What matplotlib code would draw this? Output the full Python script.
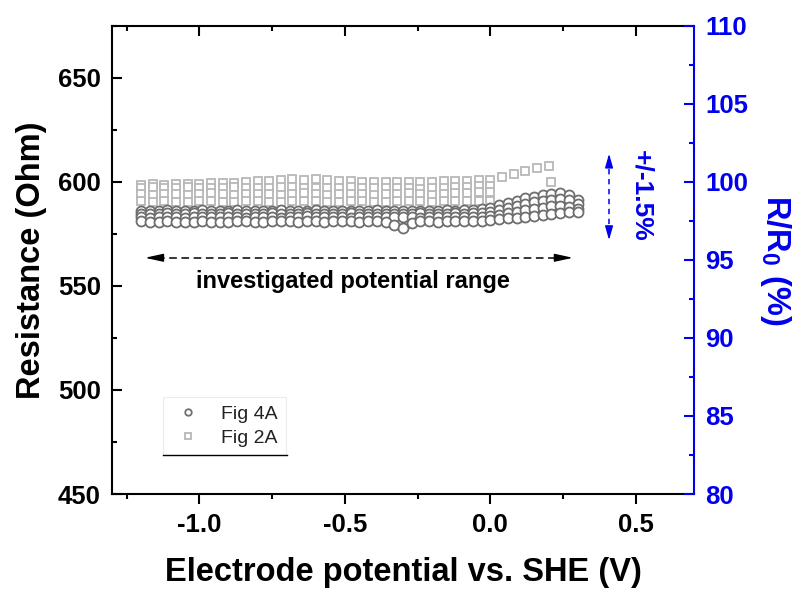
import matplotlib
matplotlib.use("Agg")
import matplotlib.pyplot as plt
from matplotlib.ticker import MultipleLocator

plt.rcParams['font.family'] = ['Liberation Sans', 'DejaVu Sans']
plt.rcParams['mathtext.fontset'] = 'custom'
plt.rcParams['mathtext.rm'] = 'Liberation Sans'
plt.rcParams['mathtext.bf'] = 'Liberation Sans:bold'

# ---- Fig 4A: resistance during potential sweeps (circles) ----
fig4a_potential = [-1.20, -1.17, -1.14, -1.11, -1.08, -1.05, -1.02, -0.99, -0.96, -0.93,
                   -0.90, -0.87, -0.84, -0.81, -0.78, -0.75, -0.72, -0.69, -0.66, -0.63,
                   -0.60, -0.57, -0.54, -0.51, -0.48, -0.45, -0.42, -0.39, -0.36, -0.33,
                   -0.30, -0.27, -0.24, -0.21, -0.18, -0.15, -0.12, -0.09, -0.06, -0.03,
                   0.00, 0.03, 0.06, 0.09, 0.12, 0.15, 0.18, 0.21, 0.24, 0.27,
                   0.30]
fig4a_sweep1 = [581.0, 580.6, 580.9, 581.2, 580.7, 580.5, 580.9, 581.1, 580.8, 580.6,
                580.9, 581.2, 581.0, 580.7, 580.9, 581.1, 581.3, 581.0, 580.8, 581.1,
                581.2, 580.9, 581.0, 581.3, 581.1, 580.8, 581.0, 581.2, 580.6, 579.4,
                577.6, 580.4, 581.0, 581.2, 580.9, 581.1, 581.3, 581.0, 581.2, 581.4,
                581.5, 582.0, 582.4, 582.8, 583.3, 583.8, 584.2, 584.6, 585.0, 585.3,
                585.5]
fig4a_sweep2 = [583.1, 582.8, 583.0, 583.3, 582.9, 582.7, 583.0, 583.2, 582.9, 583.1,
                583.3, 583.0, 582.8, 583.1, 583.2, 583.0, 582.7, 582.9, 583.2, 583.4,
                583.1, 582.9, 583.0, 583.2, 582.8, 583.0, 583.3, 583.1, 582.9, 583.0,
                583.2, 583.0, 582.8, 583.1, 583.3, 583.0, 583.2, 583.1, 582.9, 583.2,
                583.5, 584.0, 584.8, 585.5, 586.3, 587.0, 587.6, 588.2, 588.5, 588.0,
                587.0]
fig4a_sweep3 = [584.6, 584.3, 584.5, 584.8, 584.4, 584.6, 584.9, 584.5, 584.3, 584.6,
                584.8, 584.5, 584.7, 584.4, 584.6, 584.9, 584.7, 584.4, 584.5, 584.8,
                584.6, 584.3, 584.5, 584.7, 584.9, 584.6, 584.4, 584.5, 584.7, 584.5,
                584.3, 584.6, 584.8, 584.5, 584.4, 584.6, 584.8, 584.7, 584.9, 585.1,
                585.5, 586.5, 587.5, 588.5, 589.5, 590.3, 591.0, 591.5, 591.8, 591.2,
                589.5]
fig4a_sweep4 = [586.2, 585.9, 586.1, 586.4, 586.0, 585.8, 586.1, 586.3, 586.0, 585.8,
                586.1, 586.3, 586.0, 586.2, 585.9, 586.1, 586.4, 586.2, 585.9, 586.0,
                586.3, 586.1, 585.8, 586.0, 586.2, 585.9, 586.1, 586.3, 586.0, 585.9,
                586.1, 586.2, 586.0, 585.8, 586.1, 586.3, 586.2, 586.4, 586.6, 586.9,
                587.5, 589.0, 590.0, 591.0, 592.0, 592.8, 593.5, 594.2, 594.5, 593.8,
                591.5]

# ---- Fig 2A: resistance during potential sweeps (squares) ----
fig2a_potential_long = [-1.20, -1.16, -1.12, -1.08, -1.04, -1.00, -0.96, -0.92, -0.88, -0.84,
                        -0.80, -0.76, -0.72, -0.68, -0.64, -0.60, -0.56, -0.52, -0.48, -0.44,
                        -0.40, -0.36, -0.32, -0.28, -0.24, -0.20, -0.16, -0.12, -0.08, -0.04,
                        0.00, 0.04, 0.08, 0.12, 0.16, 0.20, 0.21]
fig2a_sweep1 = [598.6, 598.9, 598.7, 599.0, 598.8, 599.1, 599.3, 599.2, 599.6, 599.9,
                600.2, 600.6, 600.9, 601.2, 601.0, 601.3, 600.9, 600.6, 600.3, 600.1,
                599.9, 600.0, 599.8, 599.9, 600.1, 600.0, 600.2, 600.3, 600.5, 600.7,
                601.0, 602.3, 603.6, 605.0, 606.6, 607.7, 600.0]
fig2a_potential = [-1.20, -1.16, -1.12, -1.08, -1.04, -1.00, -0.96, -0.92, -0.88, -0.84,
                   -0.80, -0.76, -0.72, -0.68, -0.64, -0.60, -0.56, -0.52, -0.48, -0.44,
                   -0.40, -0.36, -0.32, -0.28, -0.24, -0.20, -0.16, -0.12, -0.08, -0.04,
                   0.00]
fig2a_sweep2 = [597.2, 597.5, 597.0, 596.8, 597.3, 597.1, 596.9, 597.2, 597.4, 597.0,
                596.8, 597.1, 597.3, 597.5, 597.2, 597.0, 596.9, 597.1, 597.3, 597.0,
                596.8, 596.9, 597.2, 597.0, 596.7, 596.9, 597.1, 597.3, 597.5, 597.8,
                598.0]
fig2a_sweep3 = [594.2, 593.9, 594.3, 594.0, 593.8, 594.1, 594.4, 594.0, 593.7, 594.0,
                594.3, 594.1, 593.9, 594.2, 594.5, 594.2, 593.9, 594.0, 594.3, 594.1,
                593.8, 594.0, 594.2, 594.4, 594.1, 593.9, 594.2, 594.5, 594.8, 595.1,
                595.3]
fig2a_sweep4 = [590.6, 590.3, 590.7, 590.5, 590.2, 590.6, 590.8, 590.4, 590.3, 590.6,
                590.8, 590.5, 590.3, 590.6, 590.9, 590.7, 590.4, 590.5, 590.8, 590.6,
                590.3, 590.5, 590.7, 590.9, 590.6, 590.4, 590.6, 590.8, 590.7, 590.9,
                591.0]

x_ticks = [-1.0, -0.5, 0.0, 0.5]
left_ticks = [450, 500, 550, 600, 650]
right_ticks = [80, 85, 90, 95, 100, 105, 110]

BLUE = '#0000ee'
CIRCLE = '#6e6e6e'
SQUARE = '#b8b8b8'
TICK_FS = 18.5
LABEL_FS = 23.5

fig = plt.figure(figsize=(7.98, 5.90), dpi=100)
ax = fig.add_axes([0.1404, 0.1627, 0.7293, 0.7937])
ax2 = ax.twinx()

# squares underneath, circles on top
sq_kw = dict(linestyle='none', marker='s', markersize=6.0, markerfacecolor='white',
             markeredgecolor=SQUARE, markeredgewidth=1.3, zorder=2)
h_sq, = ax.plot(fig2a_potential_long, fig2a_sweep1, **sq_kw)
for sweep in (fig2a_sweep2, fig2a_sweep3, fig2a_sweep4):
    ax.plot(fig2a_potential, sweep, **sq_kw)

ci_kw = dict(linestyle='none', marker='o', markersize=7.2, markerfacecolor='white',
             markeredgecolor=CIRCLE, markeredgewidth=1.3, zorder=3)
h_ci = None
for sweep in (fig4a_sweep4, fig4a_sweep3, fig4a_sweep2, fig4a_sweep1):
    h, = ax.plot(fig4a_potential, sweep, **ci_kw)
    h_ci = h_ci or h

ax.set_xlim(-1.30, 0.70)
ax.set_ylim(450, 675)
ax2.set_ylim(80, 110)

ax.set_xticks(x_ticks)
ax.set_xticklabels(['%.1f' % v for v in x_ticks])
ax.xaxis.set_minor_locator(MultipleLocator(0.25))
ax.set_yticks(left_ticks)
ax.yaxis.set_minor_locator(MultipleLocator(25))
ax2.set_yticks(right_ticks)
ax2.yaxis.set_minor_locator(MultipleLocator(2.5))

for s in ax.spines.values():
    s.set_linewidth(1.5)
ax.spines['right'].set_visible(False)
for name, s in ax2.spines.items():
    s.set_visible(name == 'right')
ax2.spines['right'].set_color(BLUE)
ax2.spines['right'].set_linewidth(1.5)

ax.tick_params(axis='x', which='both', direction='out', top=True, width=1.5,
               labelsize=TICK_FS, pad=7)
ax.tick_params(axis='x', which='major', length=7)
ax.tick_params(axis='x', which='minor', length=3.5)
for t in ax.xaxis.get_major_ticks() + ax.xaxis.get_minor_ticks():
    t.tick2line.set_marker(3)  # inward-pointing on the top spine
ax.tick_params(axis='y', which='both', direction='in', right=False, width=1.5,
               labelsize=TICK_FS, pad=8)
ax.tick_params(axis='y', which='major', length=7)
ax.tick_params(axis='y', which='minor', length=3.5)
ax2.tick_params(axis='y', which='both', direction='in', width=1.5, color=BLUE,
                labelcolor=BLUE, labelsize=TICK_FS, pad=8)
ax2.tick_params(axis='y', which='major', length=7)
ax2.tick_params(axis='y', which='minor', length=3.5)

for lab in ax.get_xticklabels() + ax.get_yticklabels() + ax2.get_yticklabels():
    lab.set_fontweight('bold')

ax.set_xlabel('Electrode potential vs. SHE (V)', fontsize=LABEL_FS, fontweight='bold',
              labelpad=14)
ax.set_ylabel('Resistance (Ohm)', fontsize=LABEL_FS, fontweight='bold', labelpad=8)
ax2.set_ylabel(r'R/R$_\mathbf{0}$ (%)', fontsize=LABEL_FS, fontweight='bold',
               color=BLUE, rotation=270, va='bottom', labelpad=7)

# investigated potential range
range_lo, range_hi, range_r = -1.187, 0.284, 563.5
ax.plot([range_lo + 0.04, range_hi - 0.04], [range_r, range_r], color='black',
        linestyle=(0, (5, 3)), linewidth=1.1, zorder=4)
for end, start in ((range_lo, range_lo + 0.06), (range_hi, range_hi - 0.06)):
    ax.annotate('', xy=(end, range_r), xytext=(start, range_r),
                arrowprops=dict(arrowstyle='-|>,head_length=0.55,head_width=0.12',
                                mutation_scale=20, color='black', lw=1.0,
                                shrinkA=0, shrinkB=0), zorder=4)
ax.text(-0.473, 552, 'investigated potential range', fontsize=17, fontweight='bold',
        ha='center', va='center')

# +/-1.5 % band
band_v, band_lo, band_hi = 0.408, 572.0, 613.5
ax.plot([band_v, band_v], [band_lo + 3.0, band_hi - 3.0], color=BLUE,
        linestyle=(0, (3.5, 3)), linewidth=1.1, zorder=4)
for end, start in ((band_hi, band_hi - 6.0), (band_lo, band_lo + 6.0)):
    ax.annotate('', xy=(band_v, end), xytext=(band_v, start),
                arrowprops=dict(arrowstyle='-|>,head_length=0.42,head_width=0.12',
                                mutation_scale=20, color=BLUE, lw=1.0,
                                shrinkA=0, shrinkB=0), zorder=4)
ax.text(0.518, 593.3, '+/-1.5%', fontsize=19, fontweight='bold', color=BLUE,
        rotation=270, ha='center', va='center')

# legend
leg = ax.legend([h_ci, h_sq], ['Fig 4A', 'Fig 2A'], loc='lower left',
                bbox_to_anchor=(0.0876, 0.0833), borderaxespad=0, frameon=True,
                fancybox=False, edgecolor='#ececec', framealpha=1, fontsize=14,
                markerscale=0.65, handlelength=1.8, handletextpad=0.8, borderpad=0.4,
                labelspacing=0.35)
leg.get_frame().set_linewidth(0.8)
for txt in leg.get_texts():
    txt.set_color('#222222')
ax.plot([0.0876, 0.3007], [0.0833, 0.0833], transform=ax.transAxes, color='black',
        linewidth=1.0, clip_on=False, zorder=6)

fig.savefig('out.png', dpi=100)
